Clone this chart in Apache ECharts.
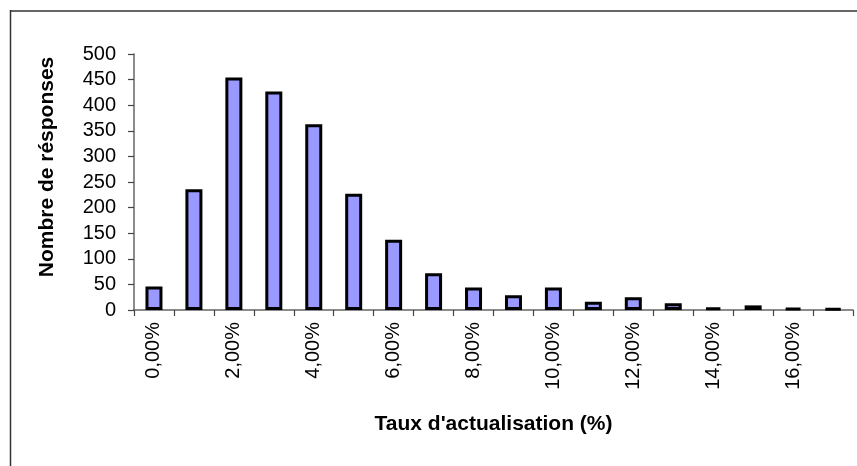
<!DOCTYPE html>
<html>
<head>
<meta charset="utf-8">
<script src="https://cdn.jsdelivr.net/npm/echarts@6/dist/echarts.min.js"></script>
<style>html,body{margin:0;padding:0;background:#fff}#c{width:857px;height:466px}</style>
</head>
<body>
<div id="c"></div>
<script>
var categories = ['0,00%','1,00%','2,00%','3,00%','4,00%','5,00%','6,00%','7,00%','8,00%','9,00%','10,00%','11,00%','12,00%','13,00%','14,00%','15,00%','16,00%','17,00%'];
var responses = [46, 236, 454, 427, 363, 227, 137, 72, 44, 29, 44, 16, 25, 13, 5, 9, 4, 3];
var yTicks = { min: 0, max: 500, interval: 50 };

var chart = echarts.init(document.getElementById('c'));
chart.setOption({
  animation: false,
  backgroundColor: '#fff',
  textStyle: { fontFamily: 'Liberation Sans, Arial, sans-serif' },
  grid: { left: 134, right: 4, top: 54, bottom: 156, containLabel: false },
  xAxis: {
    type: 'category',
    data: categories,
    boundaryGap: true,
    name: "Taux d'actualisation (%)",
    nameLocation: 'middle',
    nameGap: 104,
    nameTextStyle: { fontSize: 21, fontWeight: 'bold', color: '#000', fontFamily: 'Liberation Sans, Arial, sans-serif' },
    axisLine: { lineStyle: { color: '#666', width: 1.5 } },
    axisTick: { show: true, length: 6, interval: 0, lineStyle: { color: '#444', width: 1.2 } },
    axisLabel: { interval: 1, rotate: 90, margin: 12, fontSize: 20, color: '#000' },
    splitLine: { show: false }
  },
  yAxis: {
    type: 'value',
    min: yTicks.min, max: yTicks.max, interval: yTicks.interval,
    name: 'Nombre de résponses',
    nameLocation: 'middle',
    nameGap: 76,
    nameTextStyle: { fontSize: 21, fontWeight: 'bold', color: '#000', fontFamily: 'Liberation Sans, Arial, sans-serif', padding: [0, 0, 0, 30] },
    axisLine: { show: true, lineStyle: { color: '#666', width: 1.5 } },
    axisTick: { show: true, length: 6, lineStyle: { color: '#444', width: 1.2 } },
    axisLabel: { margin: 18, fontSize: 20, color: '#000' },
    splitLine: { show: false }
  },
  series: [{
    type: 'bar',
    data: responses,
    barWidth: 17,
    itemStyle: { color: '#9999FF', borderColor: '#000', borderWidth: 3 }
  }],
  graphic: [
    { type: 'line', shape: { x1: 10, y1: 11, x2: 857, y2: 11 }, style: { stroke: '#333', lineWidth: 1.5 } },
    { type: 'line', shape: { x1: 10.5, y1: 10, x2: 10.5, y2: 466 }, style: { stroke: '#333', lineWidth: 1.5 } }
  ]
});
</script>
</body>
</html>
